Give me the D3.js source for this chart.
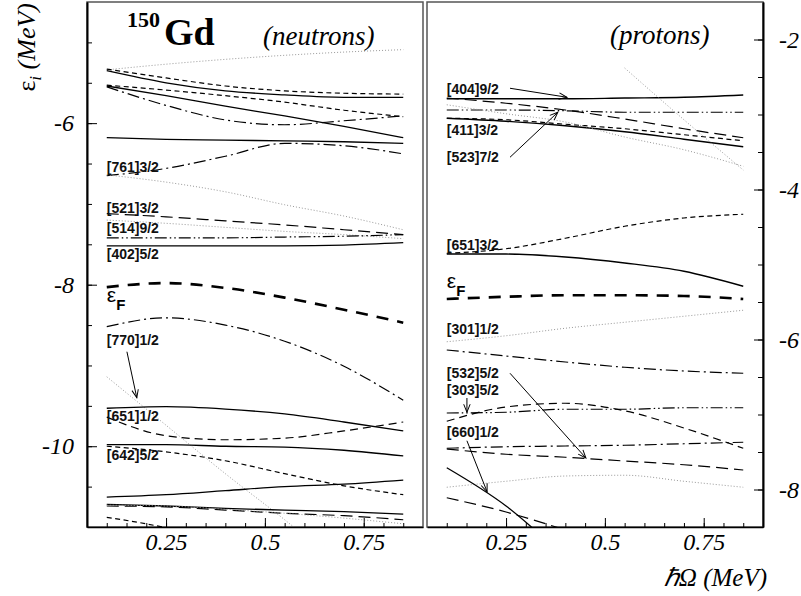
<!DOCTYPE html>
<html><head><meta charset="utf-8">
<script src="https://cdn.jsdelivr.net/npm/d3@7"></script>
<style>body{margin:0;background:#fff}
.serif{font-family:"Liberation Serif","Times New Roman",serif}
.sans{font-family:"Liberation Sans",Arial,sans-serif}
</style>
</head><body>
<svg id="c" width="801" height="596"></svg>
<script>
// ---------- data ----------
const omega = [0.1, 0.25, 0.4, 0.55, 0.7, 0.85];
const xMajorTicks = [0.25, 0.5, 0.75];
const neutronMajorTicks = [-10, -8, -6];
const protonMajorTicks = [-8, -6, -4, -2];

// neutron single-particle levels (MeV), one value per omega
const n01 = [-5.34, -5.27, -5.21, -5.16, -5.12, -5.09];
const n02 = [-5.33, -5.44, -5.54, -5.60, -5.63, -5.64];
const n03 = [-5.35, -5.50, -5.60, -5.65, -5.68, -5.68];
const n04 = [-5.54, -5.66, -5.79, -5.91, -6.04, -6.18];
const n05 = [-5.53, -5.59, -5.66, -5.74, -5.84, -5.92];
const n06 = [-5.55, -5.78, -5.96, -6.02, -5.97, -5.91];
const n07 = [-6.18, -6.20, -6.21, -6.22, -6.23, -6.25];
const n08 = [-6.65, -6.56, -6.41, -6.25, -6.28, -6.38];
const n09 = [-6.64, -6.73, -6.85, -7.01, -7.15, -7.32];
const n10 = [-7.12, -7.16, -7.21, -7.26, -7.32, -7.38];
const n11 = [-7.20, -7.24, -7.29, -7.34, -7.38, -7.43];
const n12 = [-7.42, -7.42, -7.42, -7.41, -7.40, -7.38];
const n13 = [-7.52, -7.52, -7.52, -7.52, -7.51, -7.48];
const nFermi = [-8.03, -7.98, -8.04, -8.16, -8.31, -8.47];
const n14 = [-8.52, -8.41, -8.50, -8.70, -9.01, -9.43];
const n15 = [-9.14, -9.74, -10.34, -10.91, -11.51, null];
const n16 = [-9.53, -9.51, -9.54, -9.60, -9.70, -9.81];
const n17 = [-9.64, -9.87, -9.92, -9.90, -9.81, -9.70];
const n18 = [-9.98, -9.98, -10.00, -10.01, -10.05, -10.12];
const n19 = [-10.00, -10.07, -10.18, -10.34, -10.49, -10.60];
const n20 = [-10.63, -10.60, -10.55, -10.50, -10.47, -10.42];
const n21 = [-10.72, -10.74, -10.77, -10.79, -10.81, -10.84];
const n22 = [-10.74, -10.75, -10.79, -10.83, -10.86, -10.91];
const n23 = [-10.73, -10.74, -10.78, -10.83, -10.89, -10.96];
const n24 = [-10.88, -11.01, -11.2, null, null, null];

// proton single-particle levels (MeV)
const p01 = [-2.79, -2.79, -2.79, -2.78, -2.77, -2.74];
const p02 = [-2.94, -2.94, -2.95, -2.97, -2.97, -2.97];
const p03 = [-2.78, -2.85, -2.94, -3.06, -3.19, -3.31];
const p04 = [-3.05, -3.09, -3.15, -3.23, -3.33, -3.43];
const p05 = [-3.05, -3.07, -3.13, -3.19, -3.27, -3.35];
const p06 = [-2.87, -2.99, -3.10, -3.30, -3.47, -3.69];
const p07 = [null, null, null, -2.38, -3.07, -3.74];
const p08 = [-4.85, -4.79, -4.65, -4.49, -4.38, -4.33];
const p09 = [-4.86, -4.86, -4.90, -4.98, -5.09, -5.29];
const pFermi = [-5.46, -5.43, -5.41, -5.41, -5.42, -5.46];
const p10 = [-6.03, -5.95, -5.85, -5.77, -5.69, -5.61];
const p11 = [-6.14, -6.22, -6.30, -6.37, -6.42, -6.45];
const p12 = [-7.09, -6.90, -6.85, -6.95, -7.18, -7.45];
const p13 = [-6.98, -6.97, -6.93, -6.93, -6.91, -6.91];
const p14 = [-7.45, -7.43, -7.42, -7.41, -7.39, -7.37];
const p15 = [-7.46, -7.53, -7.57, -7.62, -7.67, -7.74];
const p16 = [-7.97, -7.89, -7.82, -7.81, -7.89, -7.97];
const p17 = [-7.71, -8.22, -8.91, null, null, null];
const p18 = [-8.11, -8.30, -8.54, -8.80, null, null];

// orbital labels and the energy they sit at
const nLabels = ['[761]3/2', '[521]3/2', '[514]9/2', '[402]5/2', '[770]1/2', '[651]1/2', '[642]5/2'];
const nLabelE = [-6.61, -7.11, -7.36, -7.68, -8.75, -9.69, -10.17];
const pLabels = ['[404]9/2', '[411]3/2', '[523]7/2', '[651]3/2', '[301]1/2', '[532]5/2', '[303]5/2', '[660]1/2'];
const pLabelE = [-2.73, -3.27, -3.63, -4.81, -5.93, -6.51, -6.74, -7.30];
const nFermiLabelE = -8.21;
const pFermiLabelE = -5.31;
// arrows: [omega1, e1, omega2, e2]
const nArrows = [[0.151, -8.83, 0.176, -9.40]];
const pArrows = [[0.26, -2.65, 0.404, -2.77], [0.26, -3.57, 0.381, -2.97], [0.26, -6.45, 0.452, -7.58],
                 [0.151, -6.78, 0.151, -6.97], [0.151, -7.35, 0.202, -8.03]];

// ---------- drawing ----------
const svg = d3.select('#c');
const TOP = 2, BOT = 527;
const xL = d3.scaleLinear().domain([0.05, 0.9]).range([87, 423]);
const xR = d3.scaleLinear().domain([0.05, 0.9]).range([427, 763]);
const yL = d3.scaleLinear().domain([-11, -4.5]).range([BOT, TOP]);
const yR = d3.scaleLinear().domain([-8.5, -1.5]).range([BOT, TOP]);

const STY = {
  solid: {dash: null, w: 1.3, c: '#000'},
  dash: {dash: '5,3.5', w: 1.2, c: '#000'},
  mdash: {dash: '8,5', w: 1.2, c: '#000'},
  ldash: {dash: '12,6', w: 1.2, c: '#000'},
  dashdot: {dash: '12,4,2,4', w: 1.2, c: '#000'},
  dashdotdot: {dash: '12,3,1.5,3,1.5,3', w: 1.2, c: '#000'},
  dot: {dash: '1,2', w: 1, c: '#999'},
  fermi: {dash: '12,9', w: 2.6, c: '#000'}
};

const nSeries = [[n01,'dot'],[n02,'dash'],[n03,'solid'],[n04,'solid'],[n05,'dash'],[n06,'dashdot'],
  [n07,'solid'],[n08,'dashdot'],[n09,'dot'],[n10,'ldash'],[n11,'dot'],[n12,'dashdotdot'],[n13,'solid'],
  [nFermi,'fermi'],[n14,'dashdot'],[n15,'dot'],[n16,'solid'],[n17,'mdash'],[n18,'solid'],[n19,'dash'],
  [n20,'solid'],[n21,'solid'],[n22,'ldash'],[n23,'dot'],[n24,'dash']];
const pSeries = [[p01,'solid'],[p02,'dashdotdot'],[p03,'ldash'],[p04,'solid'],[p05,'dash'],[p06,'dot'],
  [p07,'dot'],[p08,'dash'],[p09,'solid'],[pFermi,'fermi'],[p10,'dot'],[p11,'dashdot'],[p12,'mdash'],
  [p13,'dashdotdot'],[p14,'dashdot'],[p15,'ldash'],[p16,'dot'],[p17,'solid'],[p18,'ldash']];

const defs = svg.append('defs');
defs.append('marker').attr('id', 'ah').attr('viewBox', '-9 -5 11 10')
  .attr('markerWidth', 11).attr('markerHeight', 10).attr('refX', 0).attr('refY', 0)
  .attr('orient', 'auto').attr('markerUnits', 'userSpaceOnUse')
  .append('path').attr('d', 'M-8,-3.2 L0,0 L-8,3.2').attr('fill', 'none').attr('stroke', '#000').attr('stroke-width', 1);

function serifText(sel, size) {
  sel.attr('class', 'serif').attr('font-family', null).style('font-style', 'italic')
    .style('font-size', size + 'px').attr('fill', '#000');
}

function panel(id, x, y, series, labels, labelE, fermiE, arrows) {
  const [x0, x1] = x.range();
  defs.append('clipPath').attr('id', id).append('rect')
    .attr('x', x0).attr('y', TOP).attr('width', x1 - x0).attr('height', BOT - TOP);
  const g = svg.append('g');
  g.append('rect').attr('x', x0).attr('y', TOP).attr('width', x1 - x0).attr('height', BOT - TOP)
    .attr('fill', 'none').attr('stroke', '#555').attr('stroke-width', 1.5);
  const lg = g.append('g').attr('clip-path', `url(#${id})`);
  const line = d3.line().defined(d => d[1] != null).x(d => x(d[0])).y(d => y(d[1])).curve(d3.curveMonotoneX);
  series.forEach(([arr, s]) => {
    const st = STY[s];
    lg.append('path').attr('d', line(omega.map((t, i) => [t, arr[i]])))
      .attr('fill', 'none').attr('stroke', st.c).attr('stroke-width', st.w)
      .attr('stroke-dasharray', st.dash);
  });
  labels.forEach((t, i) => {
    g.append('text').attr('class', 'sans').attr('x', x(0.1)).attr('y', y(labelE[i])).text(t)
      .style('font-weight', 'bold').style('font-size', '14px').attr('fill', '#111');
  });
  const ft = g.append('text').attr('class', 'sans').attr('x', x(0.1)).attr('y', y(fermiE));
  ft.append('tspan').text('ε').style('font-size', '21px');
  ft.append('tspan').text('F').style('font-size', '15px').style('font-weight', 'bold').attr('dy', 8);
  arrows.forEach(a => {
    g.append('line').attr('x1', x(a[0])).attr('y1', y(a[1])).attr('x2', x(a[2])).attr('y2', y(a[3]))
      .attr('stroke', '#000').attr('stroke-width', 1).attr('marker-end', 'url(#ah)');
  });
  const minorX = d3.range(0.1, 0.851, 0.05);
  g.append('g').attr('transform', `translate(0,${BOT})`)
    .call(d3.axisBottom(x).tickValues(minorX).tickSizeInner(-4).tickSizeOuter(0).tickFormat(''))
    .call(a => a.select('.domain').remove());
  const ax = g.append('g').attr('transform', `translate(0,${BOT})`)
    .call(d3.axisBottom(x).tickValues(xMajorTicks).tickSizeInner(-9).tickSizeOuter(0).tickPadding(6).tickFormat(d => String(d)));
  ax.attr('font-family', null);
  ax.select('.domain').attr('stroke', '#000').attr('stroke-width', 1.6);
  ax.selectAll('text').call(serifText, 24);
}

panel('clipN', xL, yL, nSeries, nLabels, nLabelE, nFermiLabelE, nArrows);
panel('clipP', xR, yR, pSeries, pLabels, pLabelE, pFermiLabelE, pArrows);

function styleAxis(a) {
  a.attr('font-family', null);
  a.select('.domain').attr('stroke', '#000').attr('stroke-width', 1.6);
  a.selectAll('line').attr('stroke', '#000');
  a.selectAll('text').call(serifText, 24);
}
svg.append('g').attr('transform', 'translate(87,0)')
  .call(d3.axisLeft(yL).tickValues(d3.range(-10.5, -4.9, 0.5)).tickSizeInner(-5).tickSizeOuter(0).tickFormat(''))
  .call(styleAxis);
svg.append('g').attr('transform', 'translate(87,0)')
  .call(d3.axisLeft(yL).tickValues(neutronMajorTicks).tickSizeInner(-10).tickSizeOuter(0).tickPadding(13).tickFormat(d => String(d)))
  .call(styleAxis);
svg.append('g').attr('transform', 'translate(763,0)')
  .call(d3.axisRight(yR).tickValues(d3.range(-8, -1.9, 0.5)).tickSizeInner(-5).tickSizeOuter(0).tickFormat(''))
  .call(styleAxis);
svg.append('g').attr('transform', 'translate(763,0)')
  .call(d3.axisRight(yR).tickValues(protonMajorTicks).tickSizeInner(-9).tickSizeOuter(0).tickPadding(16).tickFormat(d => String(d)))
  .call(styleAxis);

// titles
svg.append('text').attr('class', 'serif').attr('x', 127).attr('y', 27).text('150')
  .style('font-weight', 'bold').style('font-size', '22px');
svg.append('text').attr('class', 'serif').attr('x', 164).attr('y', 45).text('Gd')
  .style('font-weight', 'bold').style('font-size', '38px');
svg.append('text').attr('x', 263).attr('y', 45).text('(neutrons)').call(serifText, 27);
svg.append('text').attr('x', 610).attr('y', 44).text('(protons)').call(serifText, 27);

const yt = svg.append('text').attr('transform', 'translate(35,3) rotate(-90)').attr('text-anchor', 'end')
  .call(serifText, 26);
yt.append('tspan').text('ε').style('font-style', 'normal');
yt.append('tspan').text('i').style('font-size', '17px').attr('dy', 6);
yt.append('tspan').text(' (MeV)').attr('dy', -6);

svg.append('text').attr('x', 767).attr('y', 586).attr('text-anchor', 'end').text('ℏΩ (MeV)').call(serifText, 25);
</script>
</body></html>
